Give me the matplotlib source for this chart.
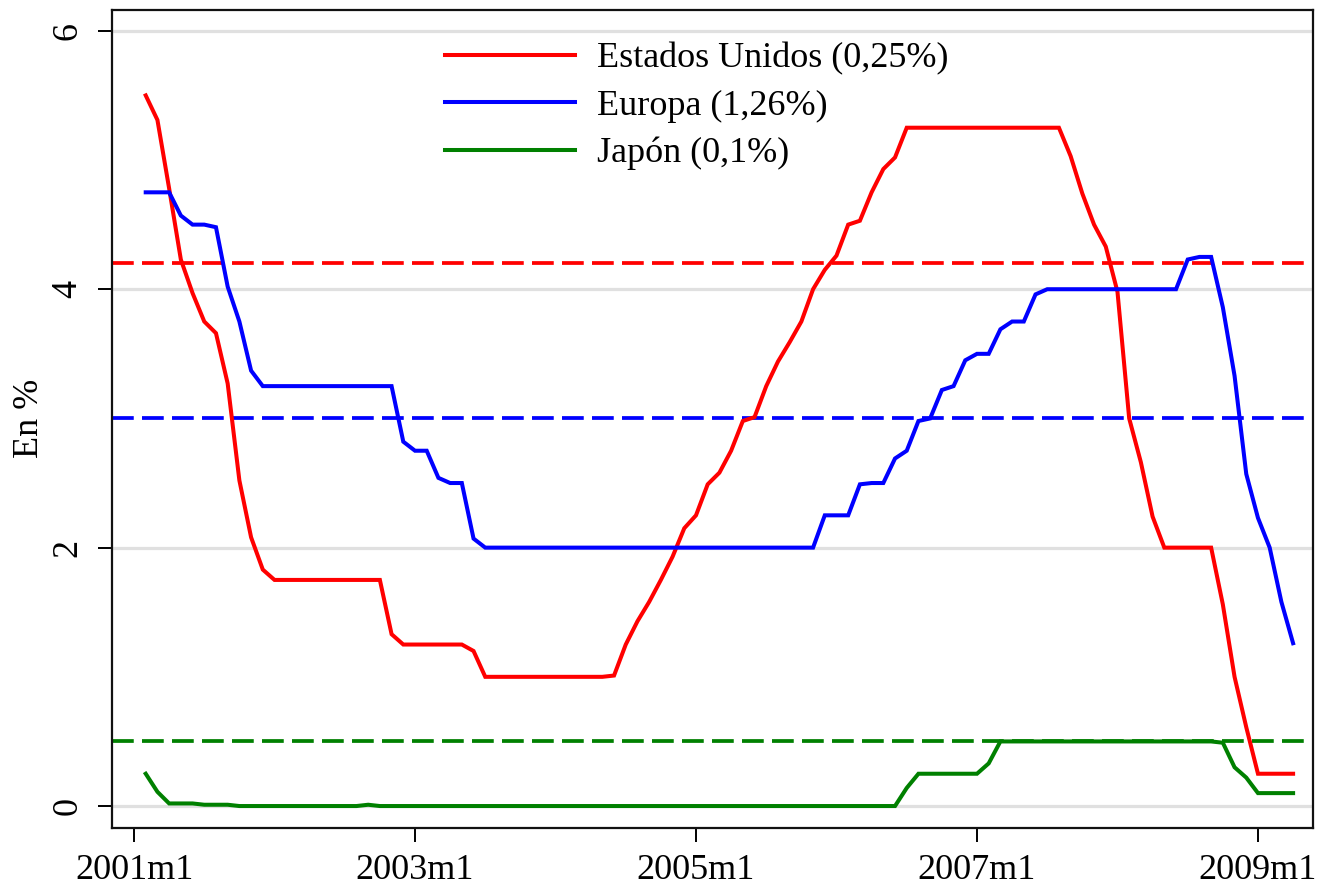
import matplotlib
matplotlib.use('Agg')
import matplotlib.pyplot as plt
import numpy as np

plt.rcParams['font.family'] = ['Liberation Serif', 'DejaVu Serif']

# Monthly index: 0 = 2001m1; data run from 2001m2 (1) to 2009m4 (99)
months = np.arange(1, 100)

us = [5.50, 5.31, 4.78, 4.23, 3.97, 3.75, 3.66, 3.27, 2.52, 2.08, 1.83,
      1.75, 1.75, 1.75, 1.75, 1.75, 1.75, 1.75, 1.75, 1.75, 1.75, 1.33, 1.25,
      1.25, 1.25, 1.25, 1.25, 1.25, 1.20, 1.00, 1.00, 1.00, 1.00, 1.00, 1.00,
      1.00, 1.00, 1.00, 1.00, 1.00, 1.01, 1.25, 1.43, 1.58, 1.75, 1.93, 2.15,
      2.25, 2.49, 2.58, 2.75, 2.98, 3.01, 3.25, 3.44, 3.59, 3.75, 4.00, 4.15,
      4.26, 4.50, 4.53, 4.75, 4.93, 5.02, 5.25, 5.25, 5.25, 5.25, 5.25, 5.25,
      5.25, 5.25, 5.25, 5.25, 5.25, 5.25, 5.25, 5.25, 5.03, 4.74, 4.50, 4.33,
      3.98, 3.00, 2.66, 2.24, 2.00, 2.00, 2.00, 2.00, 2.00, 1.56, 1.00, 0.61,
      0.25, 0.25, 0.25, 0.25]

eu = [4.75, 4.75, 4.75, 4.57, 4.50, 4.50, 4.48, 4.02, 3.75, 3.37, 3.25,
      3.25, 3.25, 3.25, 3.25, 3.25, 3.25, 3.25, 3.25, 3.25, 3.25, 3.25, 2.82,
      2.75, 2.75, 2.54, 2.50, 2.50, 2.07, 2.00, 2.00, 2.00, 2.00, 2.00, 2.00,
      2.00, 2.00, 2.00, 2.00, 2.00, 2.00, 2.00, 2.00, 2.00, 2.00, 2.00, 2.00,
      2.00, 2.00, 2.00, 2.00, 2.00, 2.00, 2.00, 2.00, 2.00, 2.00, 2.00, 2.25,
      2.25, 2.25, 2.49, 2.50, 2.50, 2.69, 2.75, 2.98, 3.00, 3.22, 3.25, 3.45,
      3.50, 3.50, 3.69, 3.75, 3.75, 3.96, 4.00, 4.00, 4.00, 4.00, 4.00, 4.00,
      4.00, 4.00, 4.00, 4.00, 4.00, 4.00, 4.23, 4.25, 4.25, 3.86, 3.33, 2.57,
      2.23, 2.00, 1.58, 1.26]

jp = [0.25, 0.11, 0.02, 0.02, 0.02, 0.01, 0.01, 0.01, 0.00, 0.00, 0.00,
      0.00, 0.00, 0.00, 0.00, 0.00, 0.00, 0.00, 0.00, 0.01, 0.00, 0.00, 0.00,
      0.00, 0.00, 0.00, 0.00, 0.00, 0.00, 0.00, 0.00, 0.00, 0.00, 0.00, 0.00,
      0.00, 0.00, 0.00, 0.00, 0.00, 0.00, 0.00, 0.00, 0.00, 0.00, 0.00, 0.00,
      0.00, 0.00, 0.00, 0.00, 0.00, 0.00, 0.00, 0.00, 0.00, 0.00, 0.00, 0.00,
      0.00, 0.00, 0.00, 0.00, 0.00, 0.00, 0.14, 0.25, 0.25, 0.25, 0.25, 0.25,
      0.25, 0.33, 0.50, 0.50, 0.50, 0.50, 0.50, 0.50, 0.50, 0.50, 0.50, 0.50,
      0.50, 0.50, 0.50, 0.50, 0.50, 0.50, 0.50, 0.50, 0.50, 0.49, 0.30, 0.22,
      0.10, 0.10, 0.10, 0.10]

ref_levels = [4.2, 3.0, 0.5]
series_labels = ['Estados Unidos (0,25%)', 'Europa (1,26%)', 'Japón (0,1%)']
series_colors = ['#ff0000', '#0000ff', '#008000']

xtick_pos = [0, 24, 48, 72, 96]
xtick_labels = ['2001m1', '2003m1', '2005m1', '2007m1', '2009m1']
ytick_pos = [0, 2, 4, 6]

FS = 26
W, H = 1317, 893
fig = plt.figure(figsize=(W / 100, H / 100), dpi=100)
L, R, T, B = 112, 1313, 9.5, 828
ax = fig.add_axes([L / W, 1 - B / H, (R - L) / W, (B - T) / H])

ax.set_xlim(-1.88, 100.7)
ax.set_ylim(-0.17, 6.165)

ax.set_yticks(ytick_pos)
ax.set_yticklabels([str(v) for v in ytick_pos])
ax.set_xticks(xtick_pos)
ax.set_xticklabels(xtick_labels)
ax.yaxis.grid(True, color='#e0e0e0', lw=2.3)
ax.set_axisbelow(True)

for lev, c in zip(ref_levels, series_colors):
    ax.axhline(lev, color=c, lw=2.7, dashes=(5.8, 2.2), zorder=2)

handles = []
for data, c, lab in zip([us, eu, jp], series_colors, series_labels):
    h, = ax.plot(months, data, color=c, lw=2.9, label=lab, zorder=3,
                 solid_joinstyle='miter')
    handles.append(h)

for s in ax.spines.values():
    s.set_linewidth(1.6)
    s.set_color('#111111')

ax.tick_params(axis='both', direction='out', length=10, width=1.4,
               labelsize=FS, colors='black')
ax.tick_params(axis='x', pad=9)
ax.tick_params(axis='y', pad=10, labelrotation=90)
for lbl in ax.get_yticklabels():
    lbl.set_va('center')

fig.text(30 / W, 1 - 418 / H, 'En %', rotation=90, ha='center', va='center',
         fontsize=FS)

leg = ax.legend(handles=handles, loc='upper left',
                bbox_to_anchor=(445 / W, 1 - 42 / H),
                bbox_transform=fig.transFigure, frameon=False, fontsize=FS,
                handlelength=3.6, handletextpad=0.61, labelspacing=0.39,
                borderpad=0, borderaxespad=0)

fig.savefig('out.png', dpi=100)
